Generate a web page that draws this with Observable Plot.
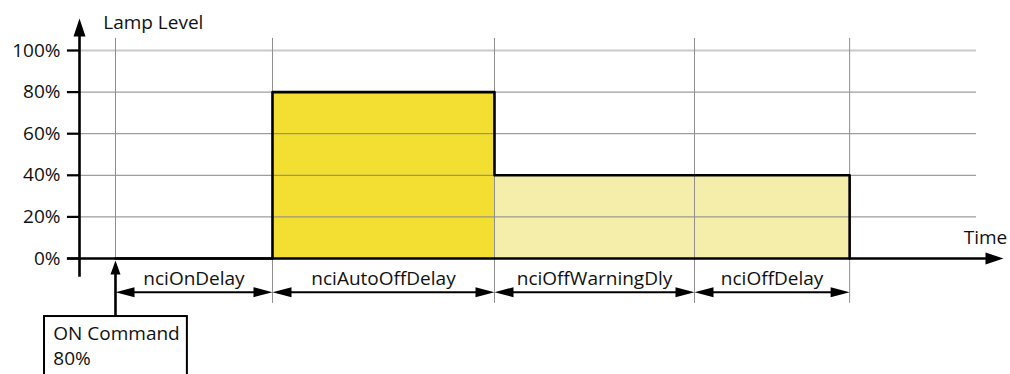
<!DOCTYPE html>
<html>
<head>
<meta charset="utf-8">
<script src="https://cdn.jsdelivr.net/npm/d3@7"></script>
<script src="https://cdn.jsdelivr.net/npm/@observablehq/plot@0.6"></script>
<style>
  html, body { margin: 0; padding: 0; background: #fff; }
  #chart svg { display: block; }
</style>
</head>
<body>
<div id="chart"></div>
<script>
// ---- Data ----
const phases = ["nciOnDelay", "nciAutoOffDelay", "nciOffWarningDly", "nciOffDelay"];
const phaseDurations = [5, 7.07, 6.37, 4.94];      // time units
const phaseLevels = [0, 80, 40, 40];                // lamp level % during each phase
const yTicks = [0, 20, 40, 60, 80, 100];
const yTickLabels = ["0%", "20%", "40%", "60%", "80%", "100%"];
const yAxisTitle = "Lamp Level";
const xAxisTitle = "Time";
const commandLines = ["ON Command", "80%"];

// ---- Derived ----
const bounds = [0];
phaseDurations.forEach(d => bounds.push(+(bounds[bounds.length - 1] + d).toFixed(2)));
const phaseRows = phases.map((p, i) => ({name: p, t1: bounds[i], t2: bounds[i + 1], level: phaseLevels[i]}));
const stepPts = bounds.map((t, i) => ({t, level: i < phaseLevels.length ? phaseLevels[i] : 0}));

// layout constants (in data units)
const xMin = -1.146, xMax = 28.28;
const tickLeft = -1.53, gridRight = 27.42;
const dimY = -16.2, labelY = -12.8, gridBottom = -21.6, gridTop = 105.8;

const arrowHead = (L, W) => ({
  draw(ctx) { ctx.moveTo(0, 0); ctx.lineTo(W, L); ctx.lineTo(-W, L); ctx.closePath(); }
});
const headDim = arrowHead(19, 5);
const headAxis = arrowHead(18, 6);
const headCmd = arrowHead(14, 5);

const FONT = 19;
const dimHeadsR = phaseRows.map(d => ({t: d.t2}));
const dimHeadsL = phaseRows.map(d => ({t: d.t1}));

const chart = Plot.plot({
  width: 1010,
  height: 374,
  marginLeft: 79,
  marginRight: 7,
  marginTop: 50,
  marginBottom: 116,
  style: {fontFamily: "'Open Sans', sans-serif", fontSize: FONT + "px", color: "#111", background: "#fff"},
  x: {domain: [xMin, xMax], axis: null},
  y: {domain: [0, 100], axis: null},
  marks: [
    // fills
    Plot.rectY(phaseRows.filter(d => d.level > 0), {
      x1: "t1", x2: "t2", y1: 0, y2: "level",
      fill: d => d.level >= 80 ? "#f2df31" : "#f5eeab"
    }),
    // horizontal gridlines
    Plot.ruleY(yTicks.filter(v => v > 0), {
      y: d => d, x1: tickLeft, x2: gridRight,
      stroke: d => d === 100 ? "#c9c9c9" : "#858585",
      strokeWidth: d => d === 100 ? 2 : 1
    }),
    // vertical gridlines
    Plot.ruleX(bounds, {x: d => d, y1: d => d === 0 ? 0 : gridBottom, y2: gridTop, stroke: "#8f8f8f", strokeWidth: 1}),
    // step line
    Plot.line(stepPts, {x: "t", y: "level", curve: "step-after", stroke: "#000", strokeWidth: 2.6}),
    // x axis
    Plot.ruleY([0], {x1: tickLeft, x2: xMax - 0.4, stroke: "#000", strokeWidth: 2.6}),
    Plot.dot([xMax], {x: d => d, y: 0, symbol: headAxis, rotate: 90, fill: "#000", stroke: null}),
    // y axis
    Plot.ruleX([xMin], {x: d => d, y1: -9, y2: 108, stroke: "#000", strokeWidth: 2.6}),
    Plot.dot([xMin], {x: d => d, y: 115.4, symbol: headAxis, rotate: 0, fill: "#000", stroke: null}),
    Plot.ruleY(yTicks, {y: d => d, x1: tickLeft, x2: xMin, stroke: "#000", strokeWidth: 2.2}),
    Plot.text(yTicks, {
      x: -1.75, y: d => d, text: (d, i) => yTickLabels[i],
      textAnchor: "end", lineAnchor: "middle", fontSize: FONT, fill: "#111"
    }),
    Plot.text([yAxisTitle], {x: -0.39, y: 110.1, text: d => d, textAnchor: "start", lineAnchor: "bottom", fontSize: FONT, fill: "#111"}),
    Plot.text([xAxisTitle], {x: 28.4, y: 7.1, text: d => d, textAnchor: "end", lineAnchor: "bottom", fontSize: FONT, fill: "#111"}),
    // dimension arrows
    Plot.link(phaseRows, {x1: d => d.t1 + 0.4, x2: d => d.t2 - 0.4, y1: dimY, y2: dimY, stroke: "#000", strokeWidth: 2}),
    Plot.dot(dimHeadsR, {x: "t", y: dimY, symbol: headDim, rotate: 90, fill: "#000", stroke: null}),
    Plot.dot(dimHeadsL, {x: "t", y: dimY, symbol: headDim, rotate: 270, fill: "#000", stroke: null}),
    Plot.text(phaseRows, {x: d => (d.t1 + d.t2) / 2, y: labelY, text: "name", textAnchor: "middle", lineAnchor: "bottom", fontSize: FONT, fill: "#111"}),
    // ON command box and arrow
    Plot.rect([0], {x1: -2.26, x2: 2.29, y1: -27.9, y2: -62, fill: "#fff", stroke: "#000", strokeWidth: 2}),
    Plot.ruleX([0], {x: d => d, y1: -27.9, y2: -6.5, stroke: "#000", strokeWidth: 2.6}),
    Plot.dot([0], {x: d => d, y: -1.0, symbol: headCmd, rotate: 0, fill: "#000", stroke: null}),
    Plot.text(commandLines, {x: -1.98, y: (d, i) => i === 0 ? -39.4 : -51.4, text: d => d, textAnchor: "start", lineAnchor: "bottom", fontSize: FONT, fill: "#111"})
  ]
});
document.getElementById("chart").appendChild(chart);
</script>
</body>
</html>
